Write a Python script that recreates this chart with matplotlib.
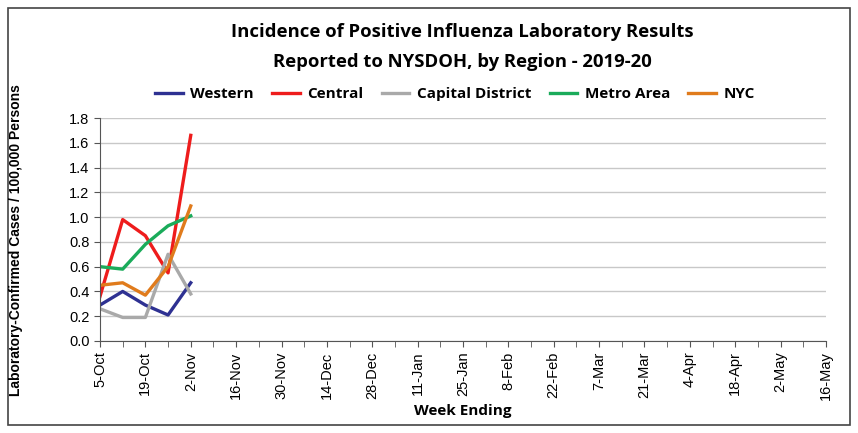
import matplotlib.pyplot as plt
from matplotlib.patches import Rectangle

# Week labels shown on the x axis (every second week)
tick_labels = ['5-Oct', '19-Oct', '2-Nov', '16-Nov', '30-Nov', '14-Dec', '28-Dec',
               '11-Jan', '25-Jan', '8-Feb', '22-Feb', '7-Mar', '21-Mar', '4-Apr',
               '18-Apr', '2-May', '16-May']
n_weeks = 33

# Incidence per 100,000 for the weeks reported so far
weeks = [0, 1, 2, 3, 4]
western = [0.29, 0.40, 0.29, 0.21, 0.47]
central = [0.36, 0.98, 0.85, 0.55, 1.66]
capital = [0.26, 0.19, 0.19, 0.70, 0.38]
metro = [0.60, 0.58, 0.78, 0.93, 1.01]
nyc = [0.45, 0.47, 0.37, 0.60, 1.09]

fig = plt.figure(figsize=(8.58, 4.33), dpi=100)
ax = fig.add_axes([100 / 858, 1 - 341 / 433, 726 / 858, 223 / 433])

ax.plot(weeks, western, color='#2e3192', lw=2.4, label='Western')
ax.plot(weeks, central, color='#ee1c1c', lw=2.4, label='Central')
ax.plot(weeks, capital, color='#a9a9a9', lw=2.4, label='Capital District')
ax.plot(weeks, metro, color='#1aab5a', lw=2.4, label='Metro Area')
ax.plot(weeks, nyc, color='#e07b1c', lw=2.4, label='NYC')

ax.set_xlim(0, n_weeks - 1)
ax.set_ylim(0, 1.8)
ax.set_yticks([i * 0.2 for i in range(10)])
ax.set_yticklabels(['%.1f' % (i * 0.2) for i in range(10)], fontsize=10.5, family='Liberation Sans')
ax.set_xticks(range(0, n_weeks, 2))
ax.set_xticks(range(n_weeks), minor=True)
ax.set_xticklabels(tick_labels, rotation=90, fontsize=10.5, family='Liberation Sans')
ax.tick_params(axis='both', which='both', direction='out', length=4, color='#555555')
ax.grid(axis='y', color='#c8c8c8', lw=1)
ax.set_axisbelow(True)
for s in ['top', 'right']:
	ax.spines[s].set_visible(False)
for s in ['left', 'bottom']:
	ax.spines[s].set_color('#555555')

ax.set_xlabel('Week Ending', fontsize=11, fontweight='bold', family='Open Sans', labelpad=3)
fig.text(16 / 858, 1 - 240 / 433, 'Laboratory-Confirmed Cases / 100,000 Persons', rotation=90,
         ha='center', va='center', fontsize=10, fontweight='bold', family='Liberation Sans')

fig.text(462 / 858, 1 - 32 / 433, 'Incidence of Positive Influenza Laboratory Results',
         ha='center', va='center', fontsize=13.3, fontweight='bold', family='Open Sans')
fig.text(462 / 858, 1 - 62 / 433, 'Reported to NYSDOH, by Region - 2019-20',
         ha='center', va='center', fontsize=13.3, fontweight='bold', family='Open Sans')

fig.legend(loc='center', bbox_to_anchor=(455 / 858, 1 - 94 / 433), ncol=5, frameon=False,
           prop={'family': 'Open Sans', 'weight': 'bold', 'size': 11},
           handlelength=1.8, columnspacing=1.2, handletextpad=0.5)

fig.patches.append(Rectangle((8 / 858, 8 / 433), 842 / 858, 417 / 433, transform=fig.transFigure,
                             fill=False, edgecolor='#444444', lw=1.2))

fig.savefig('out.png', dpi=100)
